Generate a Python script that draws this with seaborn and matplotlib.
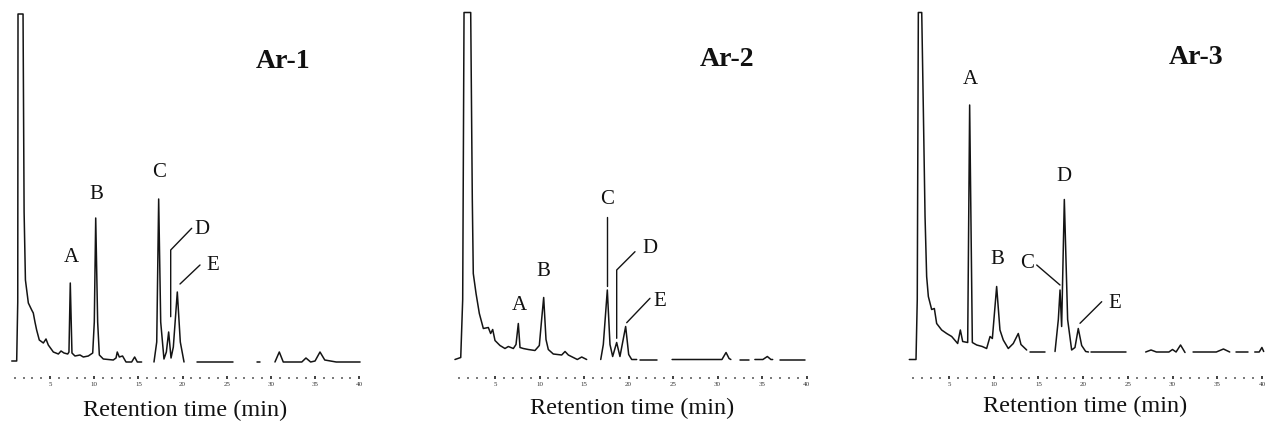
import numpy as np
import pandas as pd
import matplotlib
matplotlib.use("Agg")
import matplotlib.pyplot as plt
import seaborn as sns
from matplotlib.lines import Line2D

nan = np.nan

# ---------------- data (retention time in min, detector signal in arbitrary units) -------------
sample_names = ["Ar-1", "Ar-2", "Ar-3"]
peak_names = ["A", "B", "C", "D", "E"]
tick_minutes = [5, 10, 15, 20, 25, 30, 35, 40]

ar1_time = [0.65, 1.21, 1.33, 1.36, 1.93, 2.05, 2.2, 2.53, 2.91, 3.09, 3.28, 3.47, 3.77, 4.23, 4.53,
            4.79, 5.36, 5.93, 6.23, 6.57, 6.99, 7.13, 7.28, 7.47, 7.81, 8.38, 8.76, 9.32, 9.82, 10.0,
            10.16, 10.38, 10.57, 11.02, 12.15, 12.46, 12.6, 12.83, 13.2, 13.59, 14.23, 14.57, 14.87,
            15.36, nan, 16.76, 17.07, 17.29, 17.52, 17.89, 18.16, 18.42, 18.69, 18.95, 19.4, 19.74,
            20.16, nan, 21.6, 25.7, nan, 28.4, 28.8, nan, 30.46, 30.95, 31.4, 33.5, 33.97, 34.5, 35.0,
            35.56, 36.1, 37.4, 40.1]
ar1_signal = [1, 1, 60, 348, 348, 150, 82, 59, 52, 49, 40, 32, 22, 19, 23,
              17, 10, 8, 11, 9, 8, 10, 79, 9, 6, 7, 5, 6, 9, 40,
              144, 40, 7, 3, 2, 4, 10, 5, 6, 0, 0, 5, 0,
              0, nan, 0, 20, 163, 40, 3, 10, 30, 4, 15, 70, 20,
              0, nan, 0, 0, nan, 0, 0, nan, 0, 10, 0, 0, 4, 0, 1,
              10, 2, 0, 0]

ar2_time = [0.5, 1.15, 1.37, 1.52, 2.27, 2.45, 2.56, 2.87, 3.24, 3.69, 4.25, 4.51, 4.74, 5.0, 5.56,
            6.12, 6.5, 7.06, 7.36, 7.62, 7.81, 8.18, 8.74, 9.49, 9.98, 10.24, 10.47, 10.73, 10.99,
            11.55, 12.49, 12.87, 13.24, 13.8, 14.25, 14.74, 15.3, nan, 16.88, 17.17, 17.62, 17.92,
            18.22, 18.67, 19.04, 19.68, 20.02, 20.36, 20.92, nan, 21.3, 23.2, nan, 24.9, 30.5, 30.96,
            31.3, 31.5, nan, 32.5, 33.5, nan, 34.2, 35.1, 35.6, 36.0, 36.2, nan, 37.0, 39.8]
ar2_signal = [0, 2, 60, 347, 347, 160, 86, 66, 46, 31, 32, 26, 30, 19, 14,
              11, 13, 11, 15, 36, 12, 11, 10, 9, 14, 40, 62, 20, 10,
              5.5, 4.5, 8, 4.5, 2, 0, 2.5, 0, nan, 0, 15, 69.5, 15,
              3, 17, 3, 33, 5, 0, 0, nan, 0, 0, nan, 0, 0, 7,
              1, 0, nan, 0, 0, nan, 0, 0, 3, 0, 0, nan, 0, 0]

ar3_time = [0.56, 1.31, 1.45, 1.57, 1.95, 2.13, 2.32, 2.5, 2.69, 3.06, 3.36, 3.62, 4.18, 4.74, 5.3,
            5.97, 6.27, 6.53, 7.09, 7.31, 7.61, 8.1, 8.72, 9.21, 9.59, 9.85, 10.33, 10.7, 11.07,
            11.63, 12.19, 12.75, 13.05, 13.69, nan, 14.06, 15.7, nan, 16.86, 17.23, 17.42, 17.6,
            17.9, 18.27, 18.72, 19.09, 19.46, 19.84, 20.29, 20.6, nan, 20.9, 24.8, nan, 27.0, 27.6,
            28.2, 29.6, 30.0, 30.4, 30.9, 31.4, nan, 32.3, 34.9, 35.7, 36.4, nan, 37.1, 38.4, nan,
            39.2, 39.7, 40.0, 40.2]
ar3_signal = [0, 0, 60, 347, 347, 250, 143, 83, 63, 50, 51, 36, 29.5, 26, 23,
              16, 29.5, 18, 17, 254.5, 17, 14.5, 13, 11, 23, 21, 73, 29.5, 19.5,
              11, 16, 26, 15, 9.5, nan, 8, 8, nan, 8, 40, 69.5, 33,
              160, 40, 9.5, 12, 31, 14, 8, 7.5, nan, 7.5, 7.5, nan, 7.5, 9.5,
              7.5, 7.5, 10, 7.5, 14.5, 7, nan, 7.5, 7.5, 10.5, 7.5, nan, 7.5, 7.5, nan,
              7.5, 7.5, 12, 8]

# ---------------- layout (pixel geometry of the reference) ----------------
W, H = 1267, 425
sns.set_theme(style="white")
plt.rcParams["font.family"] = ["Liberation Serif", "DejaVu Serif"]

fig = plt.figure(figsize=(W / 100, H / 100), dpi=100)
fig.patch.set_facecolor("white")


def fx(x):
    return x / W


def fy(y):
    return 1 - y / H


panels = [
    dict(name=sample_names[0], time=ar1_time, signal=ar1_signal, t0=6.0, ppm=8.83, base=362.0,
         title_xy=(283, 62), xlabel_xy=(185, 410),
         labels=[(71, 257), (96, 195), (159, 172), (202, 229), (213, 266)],
         leaders=[[(170.7, 316.7), (170.7, 250), (191.7, 228.3)], [(180, 284), (200, 265)]]),
    dict(name=sample_names[1], time=ar2_time, signal=ar2_signal, t0=450.5, ppm=8.9, base=359.5,
         title_xy=(727, 59), xlabel_xy=(632, 408),
         labels=[(519, 305), (543.7, 271.7), (606.7, 200), (650, 248.3), (660, 301.7)],
         leaders=[[(607.3, 216.7), (607.3, 286)],
                  [(616.7, 338.3), (616.7, 270), (635, 251.7)],
                  [(626.7, 322.7), (650, 298.3)]]),
    dict(name=sample_names[2], time=ar3_time, signal=ar3_signal, t0=904.3, ppm=8.94, base=359.5,
         title_xy=(1196, 58), xlabel_xy=(1085, 406),
         labels=[(970.7, 80), (997.3, 260), (1026.7, 263.3), (1064.3, 176.7), (1115, 303.3)],
         leaders=[[(1036.7, 265), (1060, 285)], [(1101.7, 301.7), (1080, 323.3)]]),
]

AX_BOTTOM_PX = 378.5
AX_TOP_PX = 13.0
XMAX = 40.5

for p in panels:
    left = p["t0"]
    width = XMAX * p["ppm"]
    ax = fig.add_axes([fx(left), fy(AX_BOTTOM_PX), fx(width), (AX_BOTTOM_PX - AX_TOP_PX) / H])
    ax.set_facecolor("none")

    t = np.asarray(p["time"], dtype=float)
    s = np.asarray(p["signal"], dtype=float)
    seg = np.cumsum(np.isnan(t))
    df = pd.DataFrame({"t": t, "s": s, "seg": seg}).dropna()
    sns.lineplot(data=df, x="t", y="s", units="seg", estimator=None, sort=False,
                 color="#141414", linewidth=1.1, ax=ax, legend=False)
    for line in ax.lines:
        line.set_clip_on(False)

    ax.set_xlim(0, XMAX)
    ax.set_ylim(p["base"] - AX_BOTTOM_PX, p["base"] - AX_TOP_PX)
    for sp in ax.spines.values():
        sp.set_visible(False)
    ax.set_yticks([])
    ax.set_xticks(tick_minutes)
    ax.set_xticklabels([str(v) for v in tick_minutes])
    ax.set_xticks(np.arange(1, 41, 1), minor=True)
    ax.tick_params(axis="x", which="major", direction="in", length=2.5, width=1.3,
                   color="#333333", labelsize=5, pad=2.5, labelcolor="#333333", bottom=True)
    ax.tick_params(axis="x", which="minor", direction="in", length=1.5, width=1.1,
                   color="#555555", bottom=True)
    ax.set_xlabel("")
    ax.set_ylabel("")

    fig.text(fx(p["title_xy"][0]), fy(p["title_xy"][1]), p["name"], ha="center", va="center",
             fontsize=20, fontweight="bold", color="#111111")
    fig.text(fx(p["xlabel_xy"][0]), fy(p["xlabel_xy"][1]), "Retention time (min)",
             ha="center", va="center", fontsize=17.5, color="#111111")
    for name, (lx, ly) in zip(peak_names, p["labels"]):
        fig.text(fx(lx), fy(ly), name, ha="center", va="center", fontsize=15, color="#111111")
    for pts in p["leaders"]:
        xs = [fx(a) for a, b in pts]
        ys = [fy(b) for a, b in pts]
        fig.add_artist(Line2D(xs, ys, transform=fig.transFigure, color="#141414", linewidth=1.0))

fig.savefig("out.png", dpi=100, facecolor="white")
